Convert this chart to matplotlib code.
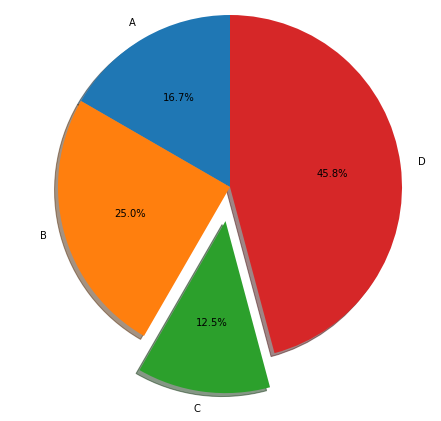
import matplotlib
matplotlib.use("Agg")
import matplotlib.pyplot as plt

labels = ["A", "B", "C", "D"]
sizes = [4, 6, 3, 11]
explode = [0, 0, 0.2, 0]

dpi = 72
fig = plt.figure(figsize=(441 / dpi, 421 / dpi), dpi=dpi)
# pie is centred at (230, 187) px with radius ~172 px; axes spans 2.5 radii
r = 172
side = 2.5 * r
cx, cy = 230, 421 - 187
ax = fig.add_axes([(cx - side / 2) / 441, (cy - side / 2) / 421, side / 441, side / 421])

ax.pie(sizes, explode=explode, labels=labels, autopct='%1.1f%%',
       shadow=True, startangle=90, textprops={'fontsize': 10})
ax.set_xlim(-1.25, 1.25)
ax.set_ylim(-1.25, 1.25)
ax.set_aspect('equal', adjustable='box')

fig.savefig("out.png", dpi=dpi)
